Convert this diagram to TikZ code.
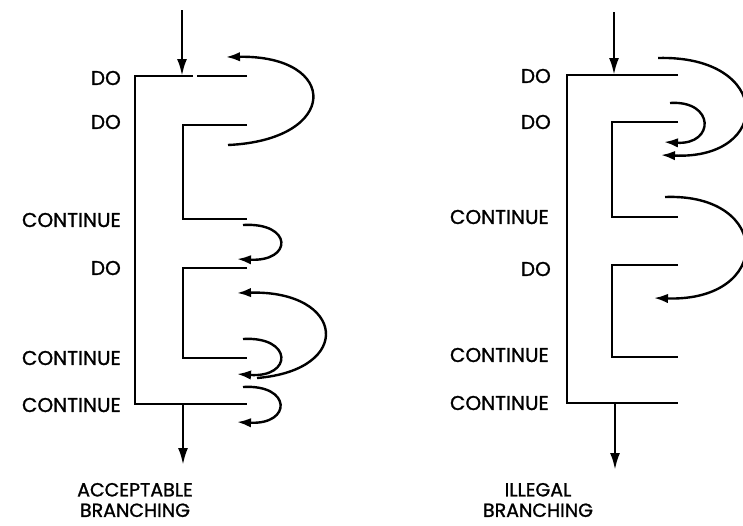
\documentclass[tikz,border=0pt]{standalone}
\usepackage{fontspec}
\setmainfont{Poppins}
\newfontfamily\labelfont{Poppins}[FakeBold=1.2]
\usetikzlibrary{arrows.meta}
\begin{document}
\begin{tikzpicture}[x=1pt,y=-1pt,
  wire/.style={line width=2.6pt},
  flow/.style={line width=2.6pt,-{Latex[length=17pt,width=10pt]}},
  jump/.style={line width=2.4pt,-{Latex[length=14pt,width=9.5pt]}},
  lbl/.style={anchor=east,font=\labelfont\fontsize{20}{20}\selectfont,inner sep=0pt},
  captxt/.style={anchor=center,align=center,font=\labelfont\fontsize{19}{20.5}\selectfont,inner sep=0pt}]
\useasboundingbox (0,0) rectangle (743,525);

% ---------------- left diagram: acceptable branching
\coordinate (LinA) at (182,10);
\coordinate (LinB) at (182,76);
\coordinate (LoutA) at (183,404);
\coordinate (LoutB) at (183,465);
\draw[wire] (247,76) -- (197,76);
\draw[wire] (193,76) -- (135,76) -- (135,404) -- (247,404);
\draw[wire] (247,125) -- (183,125) -- (183,219) -- (247,219);
\draw[wire] (247,268) -- (183,268) -- (183,358) -- (247,358);
\draw[flow] (LinA) -- (LinB);
\draw[flow] (LoutA) -- (LoutB);

\coordinate (la1) at (228,145); \coordinate (lb1) at (226,57);
\draw[jump] (la1) .. controls (340,140) and (340,55) .. (lb1);
\coordinate (la2) at (243,225); \coordinate (lb2) at (237,259);
\draw[jump] (la2) .. controls (293,222) and (293,262) .. (lb2);
\coordinate (la3) at (257,378); \coordinate (lb3) at (237,293);
\draw[jump] (la3) .. controls (355,370) and (345,290) .. (lb3);
\coordinate (la4) at (243,339); \coordinate (lb4) at (237,374);
\draw[jump] (la4) .. controls (293,336) and (293,378) .. (lb4);
\coordinate (la5) at (243,387); \coordinate (lb5) at (237,422);
\draw[jump] (la5) .. controls (292,384) and (292,425) .. (lb5);

\node[lbl] (l1) at (121,78) {DO};
\node[lbl] (l2) at (121,122) {DO};
\node[lbl] (l3) at (121,220) {CONTINUE};
\node[lbl] (l4) at (121,268) {DO};
\node[lbl] (l5) at (121,358) {CONTINUE};
\node[lbl] (l6) at (121,405) {CONTINUE};
\node[captxt] (lc) at (135,500) {ACCEPTABLE\\BRANCHING};

% ---------------- right diagram: illegal branching
\coordinate (RinA) at (614,12);
\coordinate (RinB) at (614,75);
\coordinate (RoutA) at (615,403);
\coordinate (RoutB) at (615,470);
\draw[wire] (678,75) -- (567,75) -- (567,403) -- (678,403);
\draw[wire] (678,122) -- (612,122) -- (612,217) -- (678,217);
\draw[wire] (678,265) -- (612,265) -- (612,357) -- (678,357);
\draw[flow] (RinA) -- (RinB);
\draw[flow] (RoutA) -- (RoutB);

\coordinate (ra1) at (658,58); \coordinate (rb1) at (661,155);
\draw[jump] (ra1) .. controls (773,55) and (773,160) .. (rb1);
\coordinate (ra2) at (670,103); \coordinate (rb2) at (664,142);
\draw[jump] (ra2) .. controls (715,100) and (715,145) .. (rb2);
\coordinate (ra3) at (665,197); \coordinate (rb3) at (654,298);
\draw[jump] (ra3) .. controls (773,193) and (773,302) .. (rb3);

\node[lbl] (r1) at (551,76) {DO};
\node[lbl] (r2) at (551,122) {DO};
\node[lbl] (r3) at (549,217) {CONTINUE};
\node[lbl] (r4) at (551,269) {DO};
\node[lbl] (r5) at (549,355) {CONTINUE};
\node[lbl] (r6) at (549,403) {CONTINUE};
\node[captxt] (rc) at (538,500) {ILLEGAL\\BRANCHING};
\end{tikzpicture}
\end{document}
